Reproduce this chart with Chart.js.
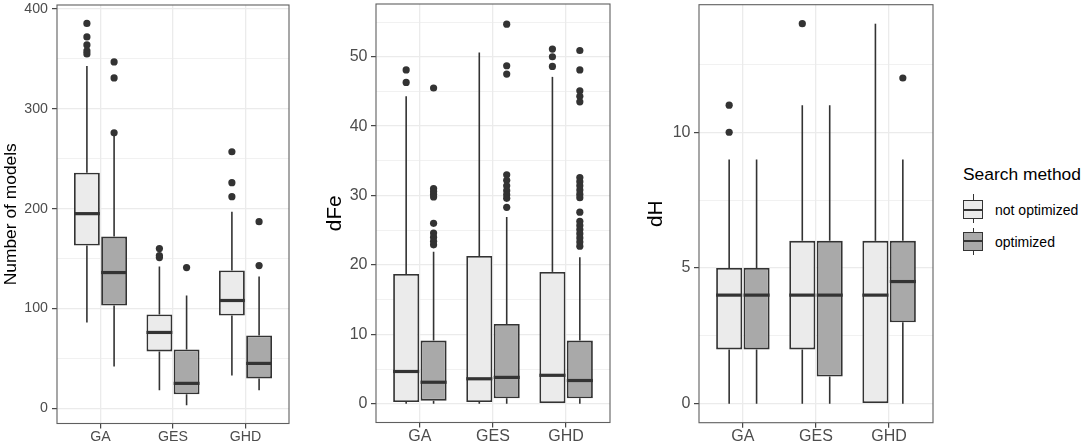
<!DOCTYPE html>
<html>
<head>
<meta charset="utf-8">
<script src="https://cdn.jsdelivr.net/npm/chart.js@4.4.1/dist/chart.umd.min.js"></script>
<style>
html,body{margin:0;padding:0;background:#fff;}
body{width:1084px;height:447px;position:relative;overflow:hidden;font-family:"Liberation Sans",Arial,Helvetica,sans-serif;}
canvas{position:absolute;top:0;}
.lg{position:absolute;white-space:nowrap;color:#000;}
.kw{position:absolute;background:#333;width:1.5px;}
.kb{position:absolute;box-sizing:border-box;border:1.6px solid #333;width:20px;}
.km{position:absolute;background:#333;width:20px;height:2px;}
</style>
</head>
<body>
<canvas id="c1" width="300" height="447" style="left:0px"></canvas>
<canvas id="c2" width="320" height="447" style="left:300px"></canvas>
<canvas id="c3" width="330" height="447" style="left:620px"></canvas>

<div class="lg" id="lgTitle" style="left:963px;top:166px;font-size:17.4px;line-height:17.4px;"></div>
<div class="kw" style="left:972.5px;top:194px;height:29px;"></div>
<div class="kb" style="left:963px;top:200px;height:19px;background:#EBEBEB;"></div>
<div class="km" style="left:963px;top:209px;"></div>
<div class="lg" id="lg0" style="left:995px;top:203px;font-size:14px;line-height:14px;"></div>
<div class="kw" style="left:972.5px;top:228px;height:27px;"></div>
<div class="kb" style="left:963px;top:232px;height:18.5px;background:#A9A9A9;"></div>
<div class="km" style="left:963px;top:240px;"></div>
<div class="lg" id="lg1" style="left:995px;top:234.5px;font-size:14px;line-height:14px;"></div>

<script>
// ---------------- data ----------------
const categories = ['GA', 'GES', 'GHD'];
const seriesNames = ['not optimized', 'optimized'];
const legendTitle = 'Search method';

// five-number summaries per category: [lower whisker, Q1, median, Q3, upper whisker]
const modelsNotOpt = [[86, 163, 195, 236, 343], [18, 57, 76, 94, 142], [33, 93, 108, 138, 197]];
const modelsOpt    = [[42, 103, 136, 172, 273], [3, 14, 25, 59, 113], [18, 30, 45, 73, 132]];
const modelsNotOptOutliers = [[385.5, 372, 364, 358, 355], [160, 153, 151], [257, 226, 212]];
const modelsOptOutliers    = [[347, 331, 276], [141], [187, 143]];
const modelsTicks = [0, 100, 200, 300, 400];
const modelsMinorTicks = [50, 150, 250, 350];

const dfeNotOpt = [[0, 0.25, 4.65, 18.7, 44.3], [0, 0.25, 3.6, 21.3, 50.6], [0, 0, 4.1, 19, 47.1]];
const dfeOpt    = [[0, 0.45, 3.1, 9.1, 21.9], [0, 0.8, 3.8, 11.5, 26.9], [0, 0.8, 3.35, 9.1, 21.1]];
const dfeNotOptOutliers = [[48.1, 46.3], [], [51.1, 50, 48.6]];
const dfeOptOutliers = [
  [45.5, 31.0, 30.6, 30.2, 29.8, 26.0, 24.6, 24.0, 23.4, 22.9],
  [54.7, 48.7, 47.5, 33.0, 32.2, 31.4, 30.7, 30.1, 29.6, 28.3],
  [50.9, 48.1, 45.1, 44.3, 43.5, 32.6, 32.0, 31.4, 30.8, 30.2, 29.7, 27.6, 26.3, 25.7, 25.1, 24.5, 23.9, 23.3, 22.7]
];
const dfeTicks = [0, 10, 20, 30, 40, 50];
const dfeMinorTicks = [5, 15, 25, 35, 45, 55];

const dhNotOpt = [[0, 2, 4, 5, 9], [0, 2, 4, 6, 11], [0, 0, 4, 6, 14]];
const dhOpt    = [[0, 2, 4, 5, 9], [0, 1, 4, 6, 11], [0, 3, 4.5, 6, 9]];
const dhNotOptOutliers = [[11, 10], [14], []];
const dhOptOutliers    = [[], [], [12]];
const dhTicks = [0, 5, 10];
const dhMinorTicks = [2.5, 7.5, 12.5];

// ---------------- styling / layout ----------------
const FONT = '"Liberation Sans", Arial, Helvetica, sans-serif';
const FILLS = ['#EBEBEB', '#A9A9A9'];
const DODGE = 0.1875;

document.getElementById('lgTitle').textContent = legendTitle;
document.getElementById('lg0').textContent = seriesNames[0];
document.getElementById('lg1').textContent = seriesNames[1];

function boxData(stats, dx) {
  return stats.map((s, i) => ({ x: i + 1 + dx, y: [s[1], s[3]] }));
}
function outlierData(outs, dx) {
  const pts = [];
  outs.forEach((arr, i) => arr.forEach(v => pts.push({ x: i + 1 + dx, y: v })));
  return pts;
}

function makeBoxPlugin(statsList) {
  return {
    id: 'boxExtras',
    beforeDatasetsDraw(chart) {
      const ctx = chart.ctx, ys = chart.scales.y;
      ctx.save();
      ctx.strokeStyle = '#333333';
      ctx.lineWidth = 1.6;
      statsList.forEach((stats, k) => {
        const meta = chart.getDatasetMeta(k);
        stats.forEach((s, i) => {
          const el = meta.data[i];
          ctx.beginPath();
          ctx.moveTo(el.x, ys.getPixelForValue(s[3]));
          ctx.lineTo(el.x, ys.getPixelForValue(s[4]));
          ctx.moveTo(el.x, ys.getPixelForValue(s[1]));
          ctx.lineTo(el.x, ys.getPixelForValue(s[0]));
          ctx.stroke();
        });
      });
      ctx.restore();
    },
    afterDatasetsDraw(chart) {
      const ctx = chart.ctx, ys = chart.scales.y;
      ctx.save();
      ctx.strokeStyle = '#333333';
      ctx.lineWidth = 3.2;
      statsList.forEach((stats, k) => {
        const meta = chart.getDatasetMeta(k);
        stats.forEach((s, i) => {
          const el = meta.data[i];
          const y = ys.getPixelForValue(s[2]);
          ctx.beginPath();
          ctx.moveTo(el.x - el.width / 2, y);
          ctx.lineTo(el.x + el.width / 2, y);
          ctx.stroke();
        });
      });
      // panel border
      const a = chart.chartArea;
      ctx.strokeStyle = '#5f5f5f';
      ctx.lineWidth = 1.1;
      ctx.strokeRect(a.left, a.top, a.right - a.left, a.bottom - a.top);
      ctx.restore();
    }
  };
}

function makePanel(id, p) {
  const allTicks = p.major.concat(p.minor).sort((a, b) => a - b);
  const isMajor = v => p.major.indexOf(v) >= 0;
  const datasets = [
    { type: 'bar', label: seriesNames[0], data: boxData(p.notOpt, -DODGE), backgroundColor: FILLS[0] },
    { type: 'bar', label: seriesNames[1], data: boxData(p.opt, DODGE), backgroundColor: FILLS[1] },
    { type: 'scatter', data: outlierData(p.notOptOut, -DODGE) },
    { type: 'scatter', data: outlierData(p.optOut, DODGE) }
  ];
  datasets.forEach(d => {
    if (d.type === 'bar') {
      Object.assign(d, { borderColor: '#333333', borderWidth: 1.8, borderSkipped: false,
        grouped: false, categoryPercentage: 1, barPercentage: 0.95 });
    } else {
      Object.assign(d, { pointRadius: 3.6, pointBackgroundColor: '#333333', pointBorderWidth: 0,
        showLine: false, order: -1 });
    }
  });
  return new Chart(document.getElementById(id), {
    type: 'bar',
    data: { datasets },
    plugins: [makeBoxPlugin([p.notOpt, p.opt])],
    options: {
      responsive: false,
      animation: false,
      events: [],
      layout: { padding: { left: 0, right: p.padRight, top: p.padTop, bottom: 0 } },
      plugins: { legend: { display: false }, tooltip: { enabled: false } },
      scales: {
        x: {
          type: 'linear', min: 0.4, max: 3.6, offset: false,
          afterBuildTicks: s => { s.ticks = categories.map((c, i) => ({ value: i + 1 })); },
          afterFit: s => { s.height = p.xHeight; s.paddingLeft = 0; s.paddingRight = 0; },
          ticks: { autoSkip: false, maxRotation: 0, padding: p.xPad, color: '#4D4D4D',
            font: { family: FONT, size: p.tickSize, lineHeight: 1 },
            callback: v => categories[Math.round(v) - 1] },
          grid: { offset: false, color: '#EBEBEB', lineWidth: 1.3, drawTicks: true, tickLength: 5,
            tickColor: '#333333', tickWidth: 1.1 },
          border: { display: false }
        },
        y: {
          type: 'linear', min: p.yMin, max: p.yMax,
          afterBuildTicks: s => { s.ticks = allTicks.map(v => ({ value: v })); },
          afterFit: s => { s.width = p.yWidth; s.paddingTop = 0; s.paddingBottom = 0; },
          ticks: { autoSkip: false, padding: p.yPad, color: '#4D4D4D',
            font: { family: FONT, size: p.tickSize, lineHeight: 1.2 },
            callback: v => isMajor(v) ? String(v) : '' },
          grid: {
            color: '#EBEBEB',
            lineWidth: c => (c.tick && isMajor(c.tick.value)) ? 1.3 : 0.7,
            drawTicks: true, tickLength: 5, tickWidth: 1.1,
            tickColor: c => (c.tick && isMajor(c.tick.value)) ? '#333333' : 'rgba(0,0,0,0)'
          },
          border: { display: false },
          title: { display: true, text: p.title, color: '#000000',
            font: { family: FONT, size: p.titleSize, lineHeight: 1 },
            padding: { top: p.titlePad, bottom: 0 } }
        }
      }
    }
  });
}

makePanel('c1', {
  notOpt: modelsNotOpt, opt: modelsOpt, notOptOut: modelsNotOptOutliers, optOut: modelsOptOutliers,
  major: modelsTicks, minor: modelsMinorTicks, yMin: -15.2, yMax: 404,
  title: 'Number of models', titleSize: 17.4, titlePad: 2.3, tickSize: 14.2,
  yWidth: 57, xHeight: 23.5, padRight: 11, padTop: 5, xPad: 1, yPad: 4
});
makePanel('c2', {
  notOpt: dfeNotOpt, opt: dfeOpt, notOptOut: dfeNotOptOutliers, optOut: dfeOptOutliers,
  major: dfeTicks, minor: dfeMinorTicks, yMin: -2.7, yMax: 57.6,
  title: 'dFe', titleSize: 20.8, titlePad: 24.6, tickSize: 16,
  yWidth: 76, xHeight: 24.5, padRight: 10, padTop: 4, xPad: 1, yPad: 3.5
});
makePanel('c3', {
  notOpt: dhNotOpt, opt: dhOpt, notOptOut: dhNotOptOutliers, optOut: dhOptOutliers,
  major: dhTicks, minor: dhMinorTicks, yMin: -0.7, yMax: 14.7,
  title: 'dH', titleSize: 20.8, titlePad: 25.6, tickSize: 16,
  yWidth: 79, xHeight: 24.3, padRight: 17, padTop: 4.7, xPad: 1, yPad: 3.5
});
</script>
</body>
</html>
